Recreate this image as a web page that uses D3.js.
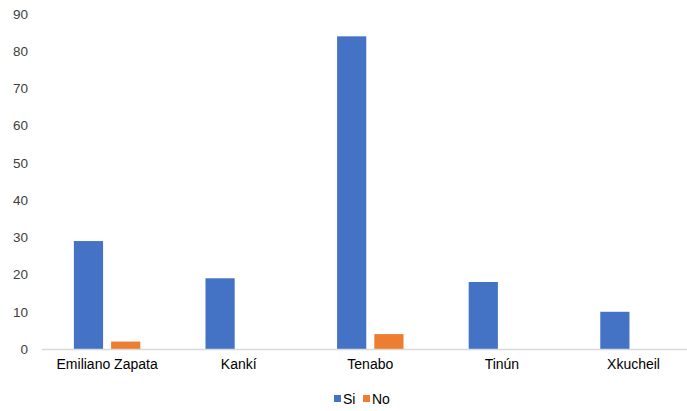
<!DOCTYPE html>
<html><head><meta charset="utf-8">
<script src="https://cdn.jsdelivr.net/npm/d3@7"></script>
<style>body{margin:0;background:#fff;overflow:hidden}svg{display:block}text{font-family:"Liberation Sans",Arial,sans-serif}</style>
</head><body>
<svg id="c" width="687" height="411"></svg>
<script>
const categories = ["Emiliano Zapata","Kankí","Tenabo","Tinún","Xkucheil"];
const seriesNames = ["Si","No"];
const siValues = [29,19,84,18,10];
const noValues = [2,0,4,0,0];
const yTicks = [0,10,20,30,40,50,60,70,80,90];
const colors = ["#4472C4","#ED7D31"];

const svg = d3.select("#c");
const x0 = 41.3, x1 = 699.3, yTop = 14, yBot = 349;
const x = d3.scaleBand().domain(categories).range([x0,x1]);
const xs = d3.scaleBand().domain(seriesNames).range([0,x.bandwidth()]).paddingInner(0.216).paddingOuter(0.875);
const y = d3.scaleLinear().domain([0,90]).range([yBot,yTop]);

const ya = svg.append("g").attr("transform",`translate(28,0)`)
  .call(d3.axisLeft(y).tickValues(yTicks).tickSize(0).tickPadding(0));
ya.select(".domain").remove();
ya.selectAll("text").attr("font-size",13.5).attr("fill","#404040").attr("font-family","Liberation Sans, Arial, sans-serif");

const data = categories.map((c,i)=>({c, vals:[siValues[i],noValues[i]]}));
const g = svg.append("g");
data.forEach(d=>{
  d.vals.forEach((v,j)=>{
    if (v<=0) return;
    g.append("rect")
      .attr("x", x(d.c)+xs(seriesNames[j]))
      .attr("width", xs.bandwidth())
      .attr("y", y(v))
      .attr("height", y(0)-y(v))
      .attr("fill", colors[j]);
  });
});

const xa = svg.append("g").attr("transform",`translate(0,${yBot})`)
  .call(d3.axisBottom(x).tickSize(0).tickPadding(10));
xa.select(".domain").attr("stroke","#D9D9D9").attr("stroke-width",1.3);
xa.selectAll("text").attr("font-size",14).attr("fill","#000").attr("font-family","Liberation Sans, Arial, sans-serif");

const leg = svg.append("g").attr("transform","translate(334,392)");
const items = [{n:"Si",x:0},{n:"No",x:29}];
items.forEach((it,i)=>{
  leg.append("rect").attr("x",it.x).attr("y",3).attr("width",7).attr("height",7).attr("fill",colors[i]);
  leg.append("text").attr("x",it.x+9).attr("y",11.5).attr("font-size",14).attr("fill","#000").text(it.n);
});
</script>
</body></html>
